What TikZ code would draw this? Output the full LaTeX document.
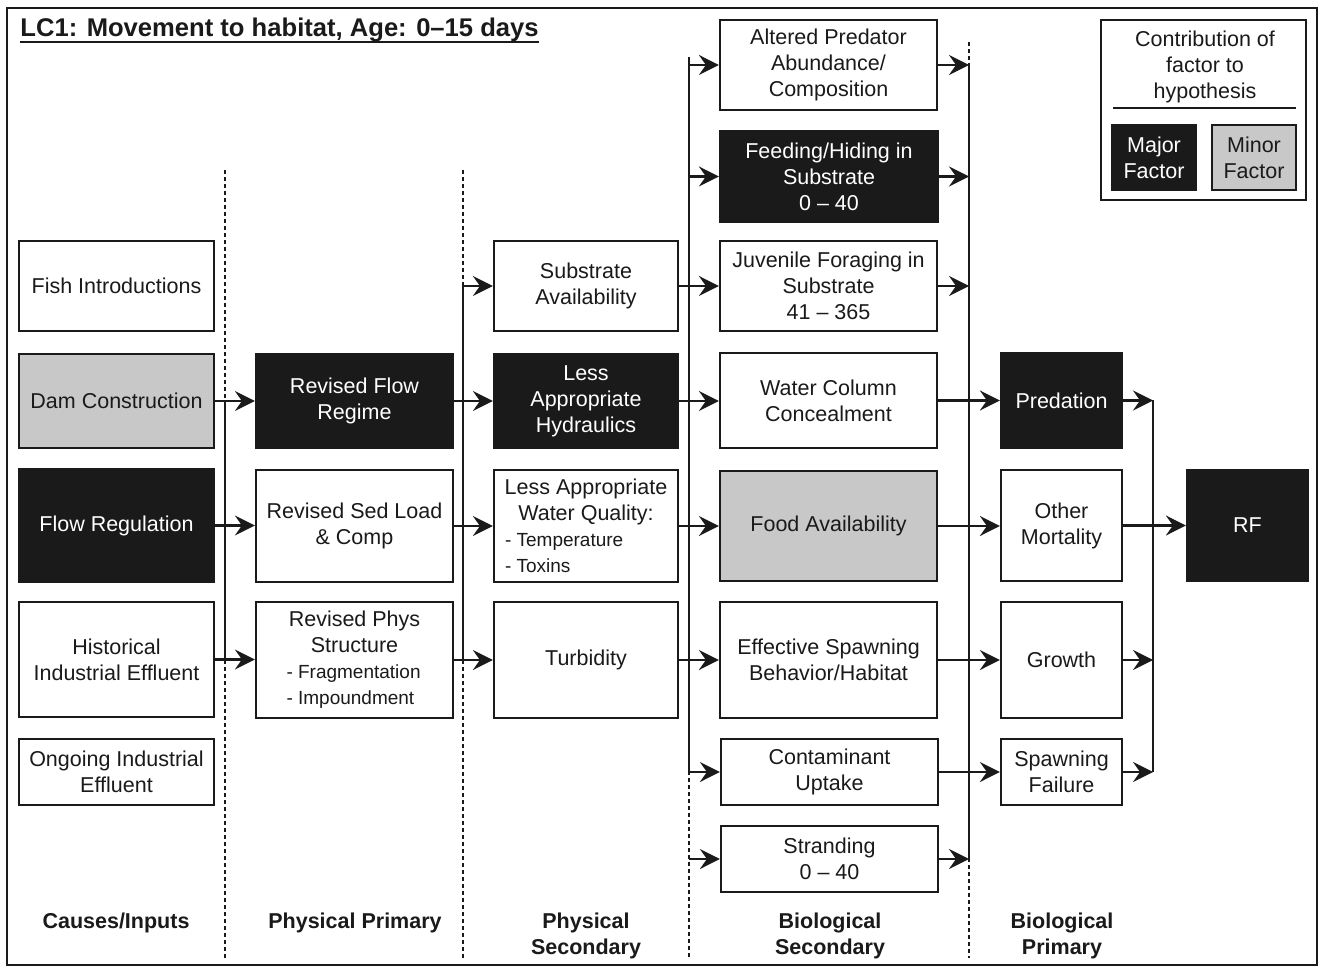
\documentclass[tikz,border=0pt]{standalone}
\usepackage{fontspec}
\setmainfont{Liberation Sans}
\usetikzlibrary{arrows.meta}
\definecolor{blk}{HTML}{1A1A1A}
\definecolor{gry}{HTML}{C8C8C8}
\newcommand{\sm}{\fontsize{9.5}{12}\selectfont}
\newcommand{\bx}[7]{\node[#6, minimum width={(#4-#2)*0.5pt}, minimum height={(#5-#3)*0.5pt}] (#1) at ({(#2+#4)/2},{(#3+#5)/2+1}) {#7};}
\begin{document}
\begin{tikzpicture}[x=0.5pt,y=-0.5pt,
  box/.style={draw=blk, line width=1.1pt, inner sep=2pt, align=center, font=\fontsize{10.75}{13}\selectfont, text=blk},
  wbox/.style={box, fill=white},
  kbox/.style={box, fill=blk, text=white},
  gbox/.style={box, fill=gry},
  conn/.style={line width=1.05pt, draw=blk},
  arr/.style={conn, -{Stealth[length=10pt,width=10pt,inset=3.5pt]}},
  dots/.style={line width=0.8pt, draw=blk, dash pattern=on 2pt off 1.5pt},
  hdr/.style={font=\bfseries\fontsize{10.75}{13}\selectfont, align=center, text=blk}]
\fill[white] (0,0) rectangle (1320,967);
\useasboundingbox (0,0) rectangle (1320,967);
\draw[line width=1.3pt, blk] (7,8) rectangle (1317,965);

% title
\node[anchor=base west, inner sep=0, text=blk, font=\bfseries\fontsize{12.8}{15}\selectfont] (title) at (20,37) {LC1: Movement to habitat, Age: 0--15 days};
\draw[line width=1pt, blk] ([yshift=-2.4pt]title.base west) -- ([yshift=-2.4pt]title.base east);

% dotted separators
\draw[dots] (225,170) -- (225,958);
\draw[dots] (463,170) -- (463,958);
\draw[dots] (689,771) -- (689,958);
\draw[dots] (969,42) -- (969,65);
\draw[dots] (969,858) -- (969,958);

% column 1
\bx{fish}{19}{240}{214}{330}{wbox}{Fish Introductions}
\bx{dam}{19}{353}{214}{447}{gbox}{Dam Construction}
\bx{flowreg}{19}{468}{214}{581}{kbox}{Flow Regulation}
\bx{hist}{19}{601}{214}{716}{wbox}{Historical\\Industrial Effluent}
\bx{ongo}{19}{738}{214}{804}{wbox}{Ongoing Industrial\\Effluent}

% column 2
\bx{revflow}{256}{353}{453}{447}{kbox}{Revised Flow\\Regime}
\bx{revsed}{256}{469}{453}{581}{wbox}{Revised Sed Load\\\& Comp}
\bx{revphys}{256}{601}{453}{717}{wbox}{Revised Phys\\Structure\\\makebox[68pt][l]{\sm - Fragmentation}\\\makebox[68pt][l]{\sm - Impoundment}}

% column 3
\bx{substr}{494}{240}{678}{330}{wbox}{Substrate\\Availability}
\bx{lesshyd}{494}{353}{678}{447}{kbox}{Less\\Appropriate\\Hydraulics}
\bx{waterq}{494}{469}{678}{581}{wbox}{Less Appropriate\\Water Quality:\\\makebox[81pt][l]{\sm - Temperature}\\\makebox[81pt][l]{\sm - Toxins}}
\bx{turb}{494}{601}{678}{717}{wbox}{Turbidity}

% column 4
\bx{altered}{720}{19}{937}{109}{wbox}{Altered Predator\\Abundance/\\Composition}
\bx{feeding}{720}{130}{938}{221}{kbox}{Feeding/Hiding in\\Substrate\\0 -- 40}
\bx{juv}{720}{240}{937}{330}{wbox}{Juvenile Foraging in\\Substrate\\41 -- 365}
\bx{watcol}{720}{352}{937}{447}{wbox}{Water Column\\Concealment}
\bx{food}{720}{470}{937}{580}{gbox}{Food Availability}
\bx{effsp}{720}{601}{937}{717}{wbox}{Effective Spawning\\Behavior/Habitat}
\bx{contam}{721}{738}{938}{804}{wbox}{Contaminant\\Uptake}
\bx{strand}{721}{825}{938}{891}{wbox}{Stranding\\0 -- 40}

% column 5
\bx{pred}{1001}{352}{1122}{447}{kbox}{Predation}
\bx{othm}{1001}{469}{1122}{580}{wbox}{Other\\Mortality}
\bx{growth}{1001}{601}{1122}{717}{wbox}{Growth}
\bx{spawnf}{1001}{738}{1122}{804}{wbox}{Spawning\\Failure}
\bx{rf}{1187}{469}{1308}{580}{kbox}{RF}

% legend
\bx{legend}{1101}{19}{1306}{199}{wbox}{}
\node[box, draw=none, fill=none] (legtitle) at (1205,67) {Contribution of\\factor to\\hypothesis};
\coordinate (legl) at (1113,108);
\coordinate (legr) at (1296,108);
\draw[line width=0.7pt, blk] (legl) -- (legr);
\bx{major}{1112}{124}{1196}{189}{kbox}{Major\\Factor}
\bx{minor}{1212}{124}{1296}{189}{gbox}{Minor\\Factor}

% bus positions
\coordinate (b1) at (225,0);
\coordinate (b2) at (463,0);
\coordinate (b3) at (689,0);
\coordinate (b3top) at (689,57);
\coordinate (b4) at (969,0);
\coordinate (b5) at (1153,0);

% bus 1
\draw[arr] (dam.east) -- (revflow.west |- dam.east);
\draw[arr] (flowreg.east) -- (revsed.west |- flowreg.east);
\draw[arr] (hist.east) -- (revphys.west |- hist.east);
\draw[conn] (b1 |- dam.east) -- (b1 |- hist.east);

% bus 2
\draw[arr] (revflow.east) -- (lesshyd.west |- revflow.east);
\draw[arr] (revsed.east) -- (waterq.west |- revsed.east);
\draw[arr] (revphys.east) -- (turb.west |- revphys.east);
\draw[arr] (b2 |- substr.west) -- (substr.west);
\draw[conn] (b2 |- substr.west) -- (b2 |- revphys.east);

% bus 3
\draw[arr] (substr.east) -- (juv.west |- substr.east);
\draw[arr] (lesshyd.east) -- (watcol.west |- lesshyd.east);
\draw[arr] (waterq.east) -- (food.west |- waterq.east);
\draw[arr] (turb.east) -- (effsp.west |- turb.east);
\draw[arr] (b3 |- altered.west) -- (altered.west);
\draw[arr] (b3 |- feeding.west) -- (feeding.west);
\draw[arr] (b3 |- contam.west) -- (contam.west);
\draw[arr] (b3 |- strand.west) -- (strand.west);
\draw[conn] (b3top) -- (b3 |- contam.west);

% bus 4
\draw[arr] (altered.east) -- (b4 |- altered.east);
\draw[arr] (feeding.east) -- (b4 |- feeding.east);
\draw[arr] (juv.east) -- (b4 |- juv.east);
\draw[arr] (watcol.east) -- (pred.west |- watcol.east);
\draw[arr] (food.east) -- (othm.west |- food.east);
\draw[arr] (effsp.east) -- (growth.west |- effsp.east);
\draw[arr] (contam.east) -- (spawnf.west |- contam.east);
\draw[arr] (strand.east) -- (b4 |- strand.east);
\draw[conn] (b4 |- altered.east) -- (b4 |- strand.east);

% bus 5
\draw[arr] (pred.east) -- (b5 |- pred.east);
\draw[arr] (othm.east) -- (rf.west |- othm.east);
\draw[arr] (growth.east) -- (b5 |- growth.east);
\draw[arr] (spawnf.east) -- (b5 |- spawnf.east);
\draw[conn] (b5 |- pred.east) -- (b5 |- spawnf.east);

% column headers
\node[hdr] (h1) at (116,923) {Causes/Inputs};
\node[hdr] (h2) at (355,923) {Physical Primary};
\node[hdr] (h3) at (586,936) {Physical\\Secondary};
\node[hdr] (h4) at (830,936) {Biological\\Secondary};
\node[hdr] (h5) at (1062,936) {Biological\\Primary};
\end{tikzpicture}
\end{document}
